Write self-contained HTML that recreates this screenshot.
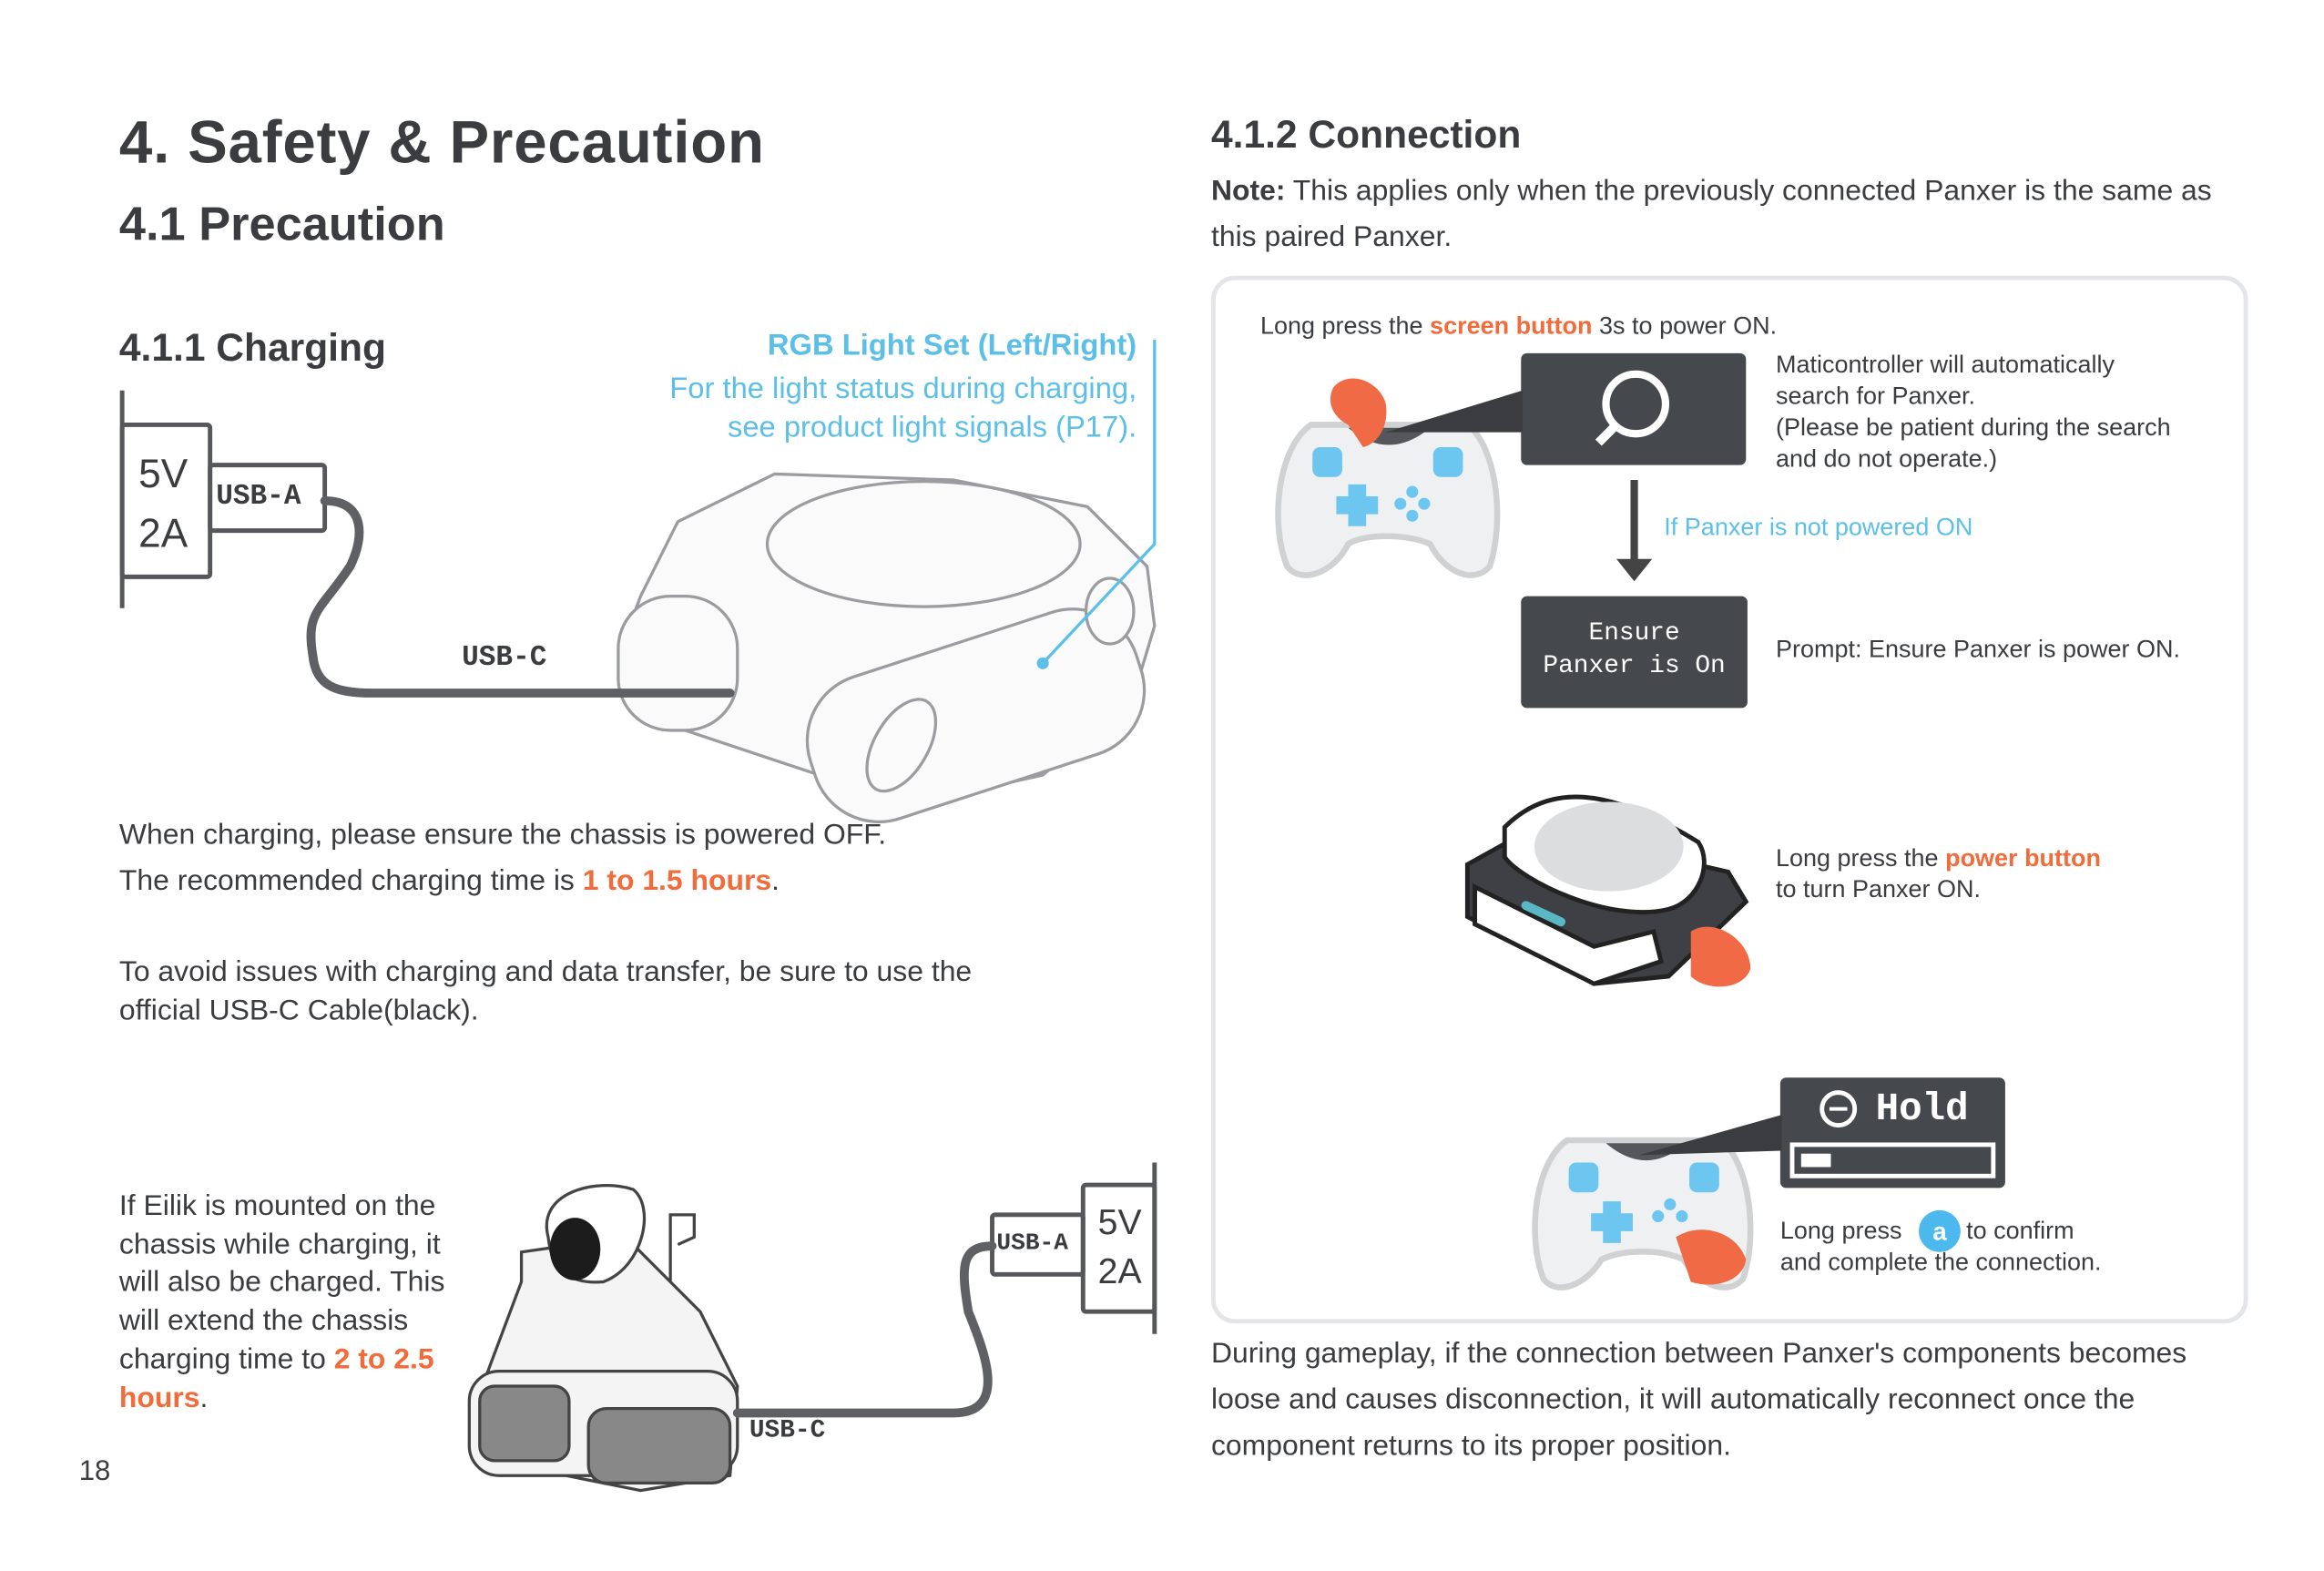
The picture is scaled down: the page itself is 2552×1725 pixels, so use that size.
<!DOCTYPE html>
<html><head><meta charset="utf-8"><style>
html,body{margin:0;padding:0;background:#fff;}
body{width:2552px;height:1725px;overflow:hidden;position:relative;}
#s{position:absolute;left:0;top:0;width:1560px;height:1054px;transform:scale(1.6359,1.6366);transform-origin:0 0;font-family:"Liberation Sans",sans-serif;color:#3a3c40;}
.a{position:absolute;white-space:nowrap;z-index:2;}
.t{font-size:19.5px;line-height:26px;}
.o{color:#f26b3a;font-weight:bold;}
.b{color:#5bbfe8;}
.m{font-family:"Liberation Mono",monospace;}
.dk{position:absolute;background:#45484d;border-radius:4px;z-index:0;}
.sm{font-size:16.5px;line-height:21px;}
</style></head><body><div id="s">
<div class="a" style="left:80px;top:74px;font-size:40px;font-weight:bold;letter-spacing:0.5px;">4. Safety &amp; Precaution</div>
<div class="a" style="left:80px;top:132px;font-size:32px;font-weight:bold;">4.1 Precaution</div>
<div class="a" style="left:80px;top:218px;font-size:26px;font-weight:bold;">4.1.1 Charging</div>
<div class="a b" style="left:443px;top:221px;width:320px;text-align:right;font-size:20px;font-weight:bold;">RGB Light Set (Left/Right)</div>
<div class="a b" style="left:403px;top:248px;width:360px;text-align:right;font-size:20px;line-height:26px;">For the light status during charging,<br>see product light signals (P17).</div>

<div class="dk" style="left:1021px;top:237px;width:151px;height:75px;"></div>
<div class="dk" style="left:1021px;top:400px;width:152px;height:75px;"></div>
<div class="dk" style="left:1195px;top:723px;width:151px;height:74px;"></div>

<svg style="position:absolute;left:0;top:0;z-index:1" width="1560" height="1054">
<g fill="none" stroke="#55575b" stroke-width="3">
<line x1="82" y1="262" x2="82" y2="408"/>
<rect x="82" y="285" width="59" height="102" rx="2"/>
<rect x="141" y="312" width="77" height="44" rx="2"/>
<line x1="775" y1="780" x2="775" y2="895"/>
<rect x="727" y="795" width="48" height="85" rx="2"/>
<rect x="666" y="815" width="61" height="40" rx="2"/>
</g>
<!-- robot 1 -->
<g fill="#fafafa" stroke="#9a9c9f" stroke-width="2">
<path d="M430 400 L455 350 L520 318 L640 322 L730 340 L770 380 L775 420 L760 470 L700 520 L610 540 L520 510 L430 480 L415 440 Z"/>
<ellipse cx="620" cy="365" rx="105" ry="42"/>
<rect x="540" y="430" width="230" height="100" rx="45" transform="rotate(-18 655 480)"/>
<rect x="415" y="400" width="80" height="90" rx="35"/>
<ellipse cx="605" cy="500" rx="18" ry="34" transform="rotate(30 605 500)"/>
<ellipse cx="745" cy="410" rx="16" ry="22"/>
</g>
<!-- robot 2 -->
<g fill="#f4f4f4" stroke="#444" stroke-width="2">
<path d="M320 940 L335 900 L350 860 L350 840 L420 830 L470 880 L495 930 L490 990 L430 1000 L330 980 Z"/>
<rect x="315" y="920" width="180" height="70" rx="20"/>
<path d="M368 830 C360 800 400 790 425 798 C440 810 432 850 405 860 C380 862 370 850 368 830 Z" fill="#fff"/>
<ellipse cx="386" cy="838" rx="17" ry="21" fill="#1c1c1c" stroke="none"/>
<rect x="322" y="930" width="60" height="50" rx="10" fill="#888"/>
<rect x="395" y="945" width="95" height="50" rx="12" fill="#888"/>
<path d="M450 860 L450 815 L466 815 L466 830 L455 835" fill="none"/>
</g>
<g fill="none" stroke="#5e6064" stroke-width="6" stroke-linecap="round">
<path d="M218 336 C245 336 245 360 235 380 C215 410 205 410 210 440 C212 460 225 465 250 465 L490 465"/>
<path d="M666 836 C645 836 645 850 650 880 C660 905 678 948 640 948 L495 948"/>
</g>
<g fill="none" stroke="#5bbfe8" stroke-width="2"><path d="M775 228 L775 365 L700 445"/></g>
<circle cx="700" cy="445" r="4" fill="#5bbfe8"/>
<!-- magnifier -->
<circle cx="1098" cy="271" r="20" fill="none" stroke="#fff" stroke-width="5"/>
<line x1="1084" y1="286" x2="1073" y2="297" stroke="#fff" stroke-width="6"/>
<!-- arrow -->
<line x1="1097" y1="322" x2="1097" y2="376" stroke="#444" stroke-width="5"/>
<polygon points="1085,375 1109,375 1097,390" fill="#444"/>
<!-- controllers -->
<g>
<path d="M880 285 L985 285 C1005 300 1010 350 1000 380 C990 392 970 385 960 365 C945 358 915 358 905 365 C895 385 873 392 864 380 C852 350 858 300 880 285 Z" fill="#eef0f2" stroke="#cfd1d3" stroke-width="4"/>
<path d="M905 287 Q932 310 960 287 Z" fill="#55575b"/>
<rect x="881" y="300" width="20" height="20" rx="5" fill="#6cc6f0"/><rect x="962" y="300" width="20" height="20" rx="5" fill="#6cc6f0"/>
<path d="M905 325 h12 v8 h8 v12 h-8 v8 h-12 v-8 h-8 v-12 h8 z" fill="#6cc6f0"/>
<g fill="#6cc6f0"><circle cx="948" cy="330" r="4"/><circle cx="940" cy="338" r="4"/><circle cx="956" cy="338" r="4"/><circle cx="948" cy="346" r="4"/></g>
<polygon points="930,290 1022,262 1022,290" fill="#3a3c40"/>
<path d="M895 260 C905 248 925 255 930 270 C933 285 925 298 915 300 L905 285 C895 280 890 270 895 260 Z" fill="#f06a45"/>
</g>
<g>
<path d="M1052 765 L1155 765 C1175 780 1180 830 1170 858 C1160 870 1140 862 1130 845 C1115 838 1090 838 1075 845 C1065 862 1045 870 1036 858 C1025 830 1030 780 1052 765 Z" fill="#eef0f2" stroke="#cfd1d3" stroke-width="4"/>
<path d="M1078 767 Q1105 790 1132 767 Z" fill="#55575b"/>
<rect x="1053" y="780" width="20" height="20" rx="5" fill="#6cc6f0"/><rect x="1134" y="780" width="20" height="20" rx="5" fill="#6cc6f0"/>
<path d="M1076 806 h12 v8 h8 v12 h-8 v8 h-12 v-8 h-8 v-12 h8 z" fill="#6cc6f0"/>
<g fill="#6cc6f0"><circle cx="1121" cy="808" r="4"/><circle cx="1113" cy="816" r="4"/><circle cx="1129" cy="816" r="4"/></g>
<polygon points="1100,775 1196,748 1196,772" fill="#3a3c40"/>
<path d="M1125 830 C1140 820 1165 825 1172 845 C1170 860 1150 865 1135 860 Z" fill="#f06a45"/>
</g>
<!-- panxer -->
<g stroke="#222" stroke-width="3">
<path d="M985 580 L1030 555 L1160 585 L1172 605 L1120 655 L1070 660 L985 615 Z" fill="#3e4045"/>
<path d="M990 595 L1070 635 L1110 625 L1115 645 L1070 660 L990 620 Z" fill="#fff"/>
<path d="M1010 555 C1040 525 1080 528 1140 565 C1150 580 1140 605 1120 610 C1080 620 1020 590 1010 575 Z" fill="#fff"/>
</g>
<ellipse cx="1080" cy="568" rx="50" ry="30" fill="#dcdddf"/>
<rect x="1020" y="610" width="32" height="6" rx="3" fill="#5ab8c4" transform="rotate(25 1036 613)"/>
<path d="M1135 625 C1150 615 1175 630 1175 650 C1170 665 1145 665 1135 655 Z" fill="#f06a45"/>
<!-- hold bar -->
<rect x="1203" y="768" width="135" height="21" fill="none" stroke="#fff" stroke-width="3"/>
<rect x="1209" y="774" width="20" height="9" fill="#fff"/>
<circle cx="1234" cy="744" r="11" fill="none" stroke="#fff" stroke-width="3"/>
<line x1="1228" y1="744" x2="1240" y2="744" stroke="#fff" stroke-width="2.5"/>
<circle cx="1302" cy="826" r="14" fill="#4bb8ee"/>
<text x="1302" y="832" text-anchor="middle" font-family="Liberation Sans" font-weight="bold" font-size="17" fill="#fff">a</text>
</svg>

<div class="a m" style="left:145px;top:322px;font-size:19px;font-weight:bold;">USB-A</div>
<div class="a" style="left:93px;top:298px;font-size:27px;line-height:40px;">5V<br>2A</div>
<div class="a m" style="left:310px;top:430px;font-size:19px;font-weight:bold;">USB-C</div>
<div class="a m" style="left:669px;top:825px;font-size:16px;font-weight:bold;">USB-A</div>
<div class="a" style="left:737px;top:804px;font-size:24px;line-height:33px;">5V<br>2A</div>
<div class="a m" style="left:503px;top:951px;font-size:17px;font-weight:bold;">USB-C</div>

<div class="a t" style="left:80px;top:547px;">When charging, please ensure the chassis is powered OFF.</div>
<div class="a t" style="left:80px;top:578px;">The recommended charging time is <span class="o">1 to 1.5 hours</span>.</div>
<div class="a t" style="left:80px;top:639px;line-height:26px;">To avoid issues with charging and data transfer, be sure to use the<br>official USB-C Cable(black).</div>
<div class="a t" style="left:80px;top:797px;line-height:25.7px;">If Eilik is mounted on the<br>chassis while charging, it<br>will also be charged. This<br>will extend the chassis<br>charging time to <span class="o">2 to 2.5</span><br><span class="o">hours</span>.</div>
<div class="a" style="left:53px;top:977px;font-size:19px;">18</div>

<div class="a" style="left:813px;top:75px;font-size:26px;font-weight:bold;">4.1.2 Connection</div>
<div class="a t" style="left:813px;top:113px;line-height:31px;"><b>Note:</b> This applies only when the previously connected Panxer is the same as<br>this paired Panxer.</div>
<div class="a" style="left:813px;top:185px;width:690px;height:697px;border:3.5px solid #e3e5e8;border-radius:16px;z-index:0;"></div>
<div class="a sm" style="left:846px;top:209px;">Long press the <span class="o">screen button</span> 3s to power ON.</div>
<div class="a sm" style="left:1192px;top:235px;">Maticontroller will automatically<br>search for Panxer.<br>(Please be patient during the search<br>and do not operate.)</div>
<div class="a sm b" style="left:1117px;top:344px;">If Panxer is not powered ON</div>
<div class="a m" style="left:1021px;top:415px;width:152px;text-align:center;color:#fff;font-size:17px;line-height:22px;">Ensure<br>Panxer is On</div>
<div class="a sm" style="left:1192px;top:426px;">Prompt: Ensure Panxer is power ON.</div>
<div class="a sm" style="left:1192px;top:566px;">Long press the <span class="o">power button</span><br>to turn Panxer ON.</div>
<div class="a m" style="left:1259px;top:729px;color:#fff;font-size:26px;font-weight:bold;">Hold</div>
<div class="a sm" style="left:1195px;top:816px;">Long press <span style="display:inline-block;width:34px"></span> to confirm<br>and complete the connection.</div>
<div class="a t" style="left:813px;top:893px;line-height:31px;">During gameplay, if the connection between Panxer's components becomes<br>loose and causes disconnection, it will automatically reconnect once the<br>component returns to its proper position.</div>
</div></body></html>
